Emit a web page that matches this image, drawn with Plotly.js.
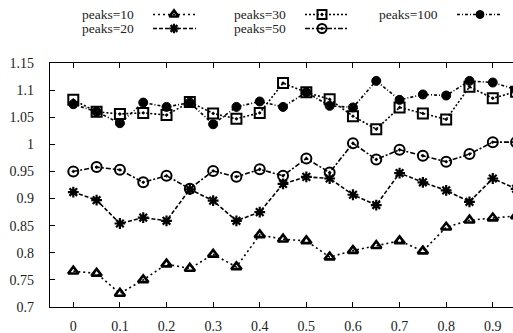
<!DOCTYPE html>
<html>
<head>
<meta charset="utf-8">
<script src="https://cdn.plot.ly/plotly-3.0.1.min.js"></script>
<style>
html,body{margin:0;padding:0;overflow:hidden;background:#fff;}
#chart{width:600px;height:333px;}
</style>
</head>
<body>
<div id="chart"></div>
<script>
// ---- data ----
const xValues = [0,0.05,0.1,0.15,0.2,0.25,0.3,0.35,0.4,0.45,0.5,0.55,0.6,0.65,0.7,0.75,0.8,0.85,0.9,0.95];
const seriesNames = ["peaks=10","peaks=20","peaks=30","peaks=50","peaks=100"];
const peaks10  = [0.766,0.762,0.725,0.750,0.779,0.771,0.797,0.774,0.833,0.825,0.822,0.792,0.804,0.813,0.822,0.803,0.847,0.860,0.864,0.868];
const peaks20  = [0.912,0.897,0.854,0.865,0.859,0.917,0.896,0.859,0.875,0.927,0.940,0.937,0.907,0.888,0.947,0.930,0.915,0.894,0.937,0.918];
const peaks30  = [1.082,1.060,1.056,1.058,1.054,1.078,1.057,1.047,1.058,1.113,1.096,1.083,1.052,1.028,1.068,1.057,1.046,1.106,1.085,1.097];
const peaks50  = [0.950,0.958,0.953,0.930,0.942,0.918,0.951,0.940,0.954,0.942,0.974,0.948,1.002,0.972,0.990,0.979,0.968,0.982,1.004,1.004];
const peaks100 = [1.074,1.060,1.039,1.077,1.069,1.077,1.037,1.069,1.079,1.069,1.096,1.071,1.068,1.117,1.082,1.092,1.090,1.117,1.114,1.101];
const xTickVals = [0,0.1,0.2,0.3,0.4,0.5,0.6,0.7,0.8,0.9];
const xTickText = ["0","0.1","0.2","0.3","0.4","0.5","0.6","0.7","0.8","0.9"];
const yTickVals = [0.7,0.75,0.8,0.85,0.9,0.95,1,1.05,1.1,1.15];
const yTickText = ["0.7","0.75","0.8","0.85","0.9","0.95","1","1.05","1.1","1.15"];

// ---- styles ----
const allSeries = [peaks10, peaks20, peaks30, peaks50, peaks100];
const styles = [
  {symbol:"triangle-up-open", size:9, lw:2.6, dash:"2px,3px"},
  {symbol:"asterisk-open", size:9, lw:2.2, dash:"4px,2px"},
  {symbol:"square-open-dot", size:10, lw:2, dash:"2px,2px"},
  {symbol:"circle-open-dot", size:10, lw:2, dash:"5px,2px,2px,2px"},
  {symbol:"circle", size:9, lw:1, dash:"3px,2px,1px,2px"}
];
const FONT = "Liberation Serif";
const TXT = "#222";

// page geometry in pixels
const W = 600, H = 333, L = 50, R = 14, T = 5, B = 26;
const plotTop = 63;                      // top of the data area
const pw = W - L - R, ph = H - T - B;     // paper size
const px2paperX = p => (p - L) / pw;
const px2paperY = p => (H - B - p) / ph;

const traces = allSeries.map((ys, i) => ({
  x: xValues, y: ys, type: "scatter", mode: "lines+markers", name: seriesNames[i],
  line: {color: "#000", width: 1.6, dash: styles[i].dash},
  marker: {symbol: styles[i].symbol, size: styles[i].size, color: "#000",
           line: {color: "#000", width: styles[i].lw}},
  cliponaxis: false, showlegend: false
}));

// custom legend: text then sample
const legendPos = [
  {tx: 81, ty: 14.5, mx: 174, l0: 153, l1: 196},
  {tx: 81, ty: 28.5, mx: 174, l0: 153, l1: 196},
  {tx: 233, ty: 14.5, mx: 322, l0: 305, l1: 347},
  {tx: 233, ty: 28.5, mx: 322, l0: 305, l1: 347},
  {tx: 378, ty: 14.5, mx: 480, l0: 457, l1: 502}
];
const annotations = [], shapes = [];
legendPos.forEach((p, i) => {
  annotations.push({xref: "paper", yref: "paper", x: px2paperX(p.tx), y: px2paperY(p.ty),
    xanchor: "left", yanchor: "middle", showarrow: false, text: seriesNames[i],
    borderpad: 0, font: {family: FONT, size: 13.5, color: TXT}});
  shapes.push({type: "line", xref: "paper", yref: "paper",
    x0: px2paperX(p.l0), x1: px2paperX(p.l1), y0: px2paperY(p.ty), y1: px2paperY(p.ty),
    line: {color: "#000", width: 1.6, dash: styles[i].dash}});
  traces.push({x: [p.mx], y: [p.ty], xaxis: "x2", yaxis: "y2", type: "scatter", mode: "markers",
    marker: {symbol: styles[i].symbol, size: styles[i].size - 1, color: "#000",
             line: {color: "#000", width: styles[i].lw}},
    cliponaxis: false, showlegend: false, hoverinfo: "skip"});
});

const layout = {
  width: W, height: H, autosize: false,
  margin: {l: L, r: R, t: T, b: B, pad: 0},
  paper_bgcolor: "#fff", plot_bgcolor: "rgba(0,0,0,0)",
  showlegend: false,
  font: {family: FONT, size: 14, color: TXT},
  xaxis: {range: [-0.05, 1.1], tickvals: xTickVals, ticktext: xTickText,
    ticks: "inside", ticklen: 5, tickcolor: "#000", tickwidth: 1,
    showline: true, linecolor: "#000", linewidth: 1.2, mirror: "ticks",
    showgrid: false, zeroline: false, ticklabelstandoff: 6,
    tickfont: {family: FONT, size: 14, color: TXT}},
  yaxis: {domain: [0, (H - B - plotTop) / ph], range: [0.7, 1.15],
    tickvals: yTickVals, ticktext: yTickText,
    ticks: "inside", ticklen: 5, tickcolor: "#000", tickwidth: 1,
    showline: true, linecolor: "#000", linewidth: 1.2, mirror: "ticks",
    showgrid: false, zeroline: false, ticklabelstandoff: 12,
    tickfont: {family: FONT, size: 14, color: TXT}},
  xaxis2: {domain: [0, 1], anchor: "y2", range: [L, W - R], visible: false, fixedrange: true},
  yaxis2: {domain: [0, 1], anchor: "x2", range: [H - B, T], visible: false, fixedrange: true},
  annotations: annotations,
  shapes: shapes
};

Plotly.newPlot("chart", traces, layout, {displayModeBar: false, staticPlot: true});
</script>
</body>
</html>
